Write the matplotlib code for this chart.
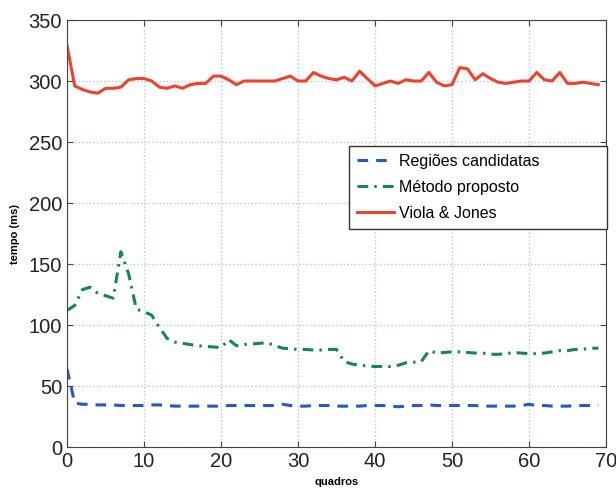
import numpy as np
import matplotlib.pyplot as plt

plt.rcParams['font.family'] = ['Liberation Sans', 'DejaVu Sans']

# frames 0..69
quadros = np.arange(70)

regioes = [64, 36, 35, 35, 34.5, 34.5, 34.5, 34, 34, 34, 34,
           34.5, 34.5, 34, 33.5, 33.5, 33.5, 33.5, 33.5, 33.5, 33.5,
           34, 34, 34, 34, 34, 34, 34, 35, 34, 33.5,
           33.5, 34, 34, 34, 33.5, 33.5, 33.5, 33.5, 34, 34,
           34, 33.5, 33, 33.5, 34, 34, 34.5, 34, 34, 34,
           34, 34, 34, 33.5, 33.5, 33.5, 33.5, 33.5, 34, 35,
           34, 34, 33.5, 33.5, 33.5, 34, 34, 34, 34]

metodo = [112, 116, 129, 131, 126, 124, 122, 160, 142, 113, 111,
          108, 98, 89, 86, 85, 84, 83, 82.5, 82, 81.5,
          88, 83, 84, 84.5, 85, 85.5, 83, 81, 80.5, 80,
          80, 79.5, 79.5, 80, 80, 70, 68, 67, 66.5, 66,
          66, 66, 67, 69, 69.5, 70, 79, 77, 77.5, 78,
          78, 77.5, 77, 77, 76, 76, 76.5, 77.5, 77, 76.5,
          76.5, 77, 78, 79, 79, 80, 80, 81, 81]

viola = [329, 296, 293, 291, 290, 294, 294, 295, 301, 302, 302,
         300, 295, 294, 296, 294, 297, 298, 298, 304, 304,
         301, 297, 300, 300, 300, 300, 300, 302, 304, 300,
         300, 307, 304, 302, 301, 303, 300, 308, 302, 296,
         298, 300, 298, 301, 300, 300, 307, 299, 296, 297,
         311, 310, 301, 306, 302, 299, 298, 299, 300, 300,
         307, 301, 300, 307, 298, 298, 299, 298, 297]

fig = plt.figure(figsize=(6.16, 4.88), dpi=100)
ax = fig.add_axes([0.1088, 0.084, 0.875, 0.875])

ax.plot(quadros, regioes, color='#2858c8', lw=2.2, dashes=(3.5, 2.6),
        label='Regiões candidatas')
ax.plot(quadros, metodo, color='#13884a', lw=2.2, dashes=(3.5, 2, 0.8, 2),
        label='Método proposto')
ax.plot(quadros, viola, '-', color='#f2402a', lw=2.2, label='Viola & Jones')

ax.set_xlim(0, 70)
ax.set_ylim(0, 350)
ax.set_xticks(range(0, 71, 10))
ax.set_yticks(range(0, 351, 50))
ax.tick_params(direction='in', top=True, right=True, labelsize=14.5, length=4,
               color='#444444', labelcolor='#222222')
ax.grid(True, linestyle=':', color='#a8cce0', lw=1)
for s in ax.spines.values():
    s.set_color('#444444')

ax.set_xlabel('quadros', fontsize=8, fontweight='bold')
ax.set_ylabel('tempo (ms)', fontsize=8, fontweight='bold', labelpad=6)
ax.xaxis.set_label_coords(0.5, -0.07)

# legend box stretched like the MATLAB one (empty space on the right)
leg = ax.legend(loc='upper left', bbox_to_anchor=(0.523, 0.518, 0.479, 0.187),
                mode='expand', fontsize=11.5,
                fancybox=False, framealpha=1, edgecolor='#333333',
                handlelength=2.3, handletextpad=0.35, borderpad=0.5,
                labelspacing=0.68, borderaxespad=0)
leg.get_frame().set_linewidth(1)

fig.savefig('out.png', dpi=100)
